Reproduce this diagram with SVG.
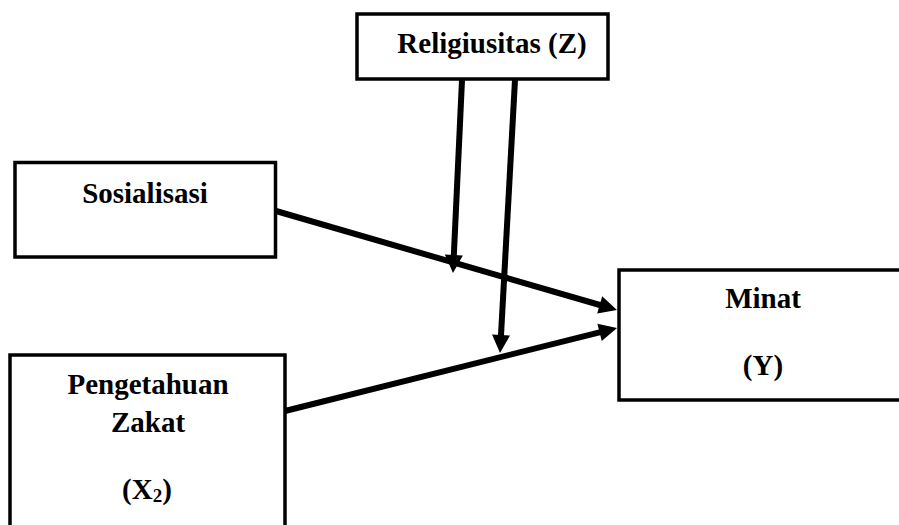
<svg xmlns="http://www.w3.org/2000/svg" width="899" height="525" viewBox="0 0 899 525">
<style>
.box{fill:#fff;stroke:#000;stroke-width:3.5}
.t{font-family:"Liberation Serif","Times New Roman",serif;font-weight:bold;font-size:29px;fill:#000;text-anchor:middle}
.c{stroke:#000;stroke-width:6;fill:none;marker-end:url(#ah)}
</style>
<defs>
<marker id="ah" markerUnits="userSpaceOnUse" markerWidth="18" markerHeight="18" refX="2" refY="9" orient="auto" overflow="visible">
<path d="M0,0 L18,9 L0,18 z" fill="#000"/>
</marker>
</defs>
<rect width="899" height="525" fill="#fff"/>
<g id="religiusitas">
<rect class="box" x="357" y="14" width="251" height="65"/>
<text class="t" x="492" y="53">Religiusitas (Z)</text>
</g>
<g id="sosialisasi">
<rect class="box" x="15" y="162.5" width="260.5" height="94.5"/>
<text class="t" x="145" y="203">Sosialisasi</text>
</g>
<g id="pengetahuan">
<rect class="box" x="10" y="355" width="275" height="200"/>
<text class="t" x="148" y="394">Pengetahuan</text>
<text class="t" x="148" y="432">Zakat</text>
<text class="t" x="147" y="499">(X<tspan font-size="19" dy="3">2</tspan><tspan dy="-3">)</tspan></text>
</g>
<g id="minat">
<rect class="box" x="619" y="270" width="300" height="130"/>
<text class="t" x="763" y="308">Minat</text>
<text class="t" x="763" y="375">(Y)</text>
</g>
<g id="connectors">
<path class="c" d="M276,211 L601.6,305.5"/>
<path class="c" d="M285,411 L601.5,331.9"/>
<path class="c" d="M462,80 L453.75,257"/>
<path class="c" d="M515,80 L500.9,337"/>
</g>
</svg>
